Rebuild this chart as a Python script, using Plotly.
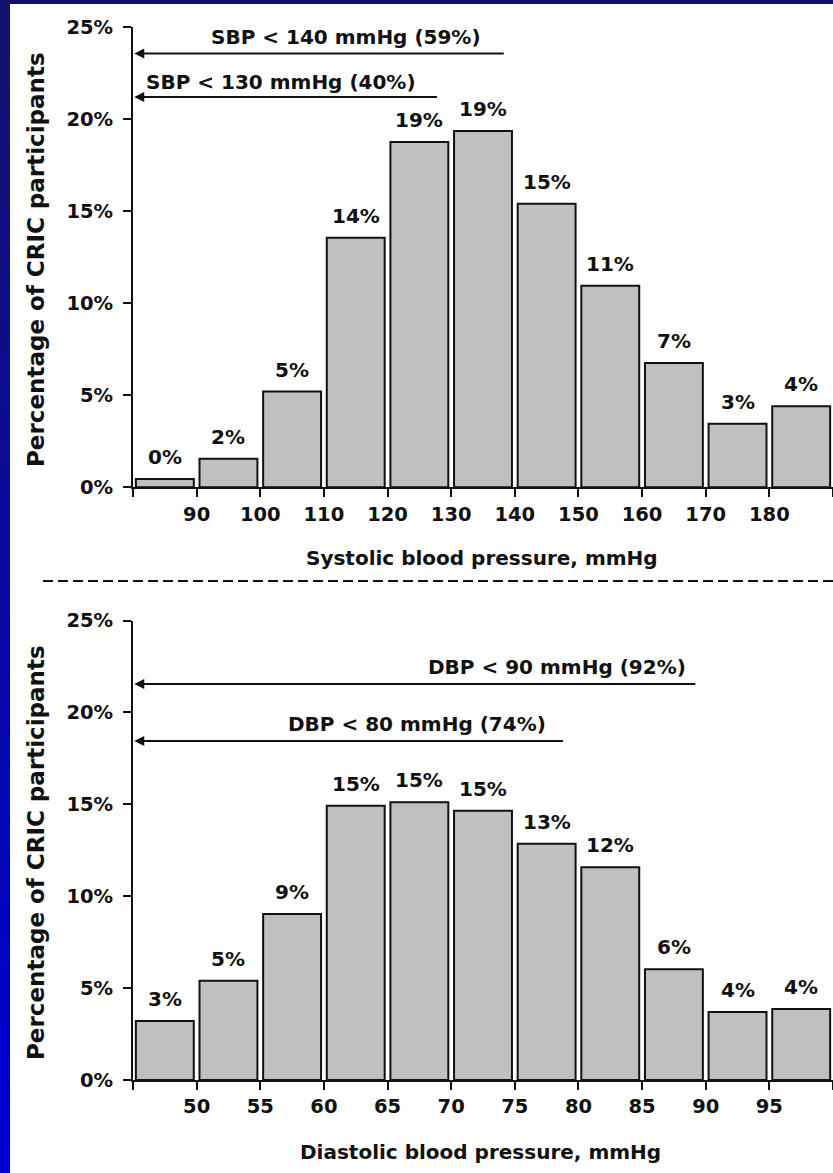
import plotly.graph_objects as go

# ---------------------------------------------------------------- data
# Systolic blood pressure histogram (10 mmHg bins, lower bin edges)
sbp_bin_lo = [80, 90, 100, 110, 120, 130, 140, 150, 160, 170, 180]
sbp_pct = [0.45, 1.55, 5.2, 13.55, 18.75, 19.35, 15.4, 10.95, 6.75, 3.45, 4.4]
sbp_tick_vals = [80, 90, 100, 110, 120, 130, 140, 150, 160, 170, 180, 190]
sbp_tick_text = ["", "90", "100", "110", "120", "130", "140", "150", "160", "170", "180", ""]

# Diastolic blood pressure histogram (5 mmHg bins, lower bin edges)
dbp_bin_lo = [45, 50, 55, 60, 65, 70, 75, 80, 85, 90, 95]
dbp_pct = [3.21, 5.40, 9.03, 14.92, 15.11, 14.65, 12.86, 11.57, 6.02, 3.70, 3.86]
dbp_tick_vals = [45, 50, 55, 60, 65, 70, 75, 80, 85, 90, 95, 100]
dbp_tick_text = ["", "50", "55", "60", "65", "70", "75", "80", "85", "90", "95", ""]

y_tick_vals = [0, 5, 10, 15, 20, 25]
y_tick_text = ["0%", "5%", "10%", "15%", "20%", "25%"]

# Cumulative threshold call-outs: text, text position (x, y), arrow y, arrow tail x
sbp_callouts = [
    ("SBP < 140 mmHg (59%)", 113.4, 24.45, 23.56, 138.5),
    ("SBP < 130 mmHg (40%)", 103.2, 22.02, 21.20, 128.0),
]
dbp_callouts = [
    ("DBP < 90 mmHg (92%)", 78.3, 22.45, 21.55, 89.3),
    ("DBP < 80 mmHg (74%)", 67.3, 19.35, 18.44, 78.9),
]

# ---------------------------------------------------------------- layout helpers
W, H = 833, 1173
ML = 133
PW = W - ML
FONT = "DejaVu Sans"
INK = "#111111"
BAR_FILL = "#c0c0c0"


def paper_x(px):
    return (px - ML) / PW


def paper_y(py):
    return 1 - py / H


def bold(size):
    return dict(family=FONT, size=size, color=INK, weight="bold")


fig = go.Figure()

fig.add_trace(go.Bar(
    x=[lo + 5 for lo in sbp_bin_lo], y=sbp_pct, width=9.1,
    marker=dict(color=BAR_FILL, line=dict(color=INK, width=2)),
    xaxis="x", yaxis="y", hoverinfo="skip",
))
fig.add_trace(go.Bar(
    x=[lo + 2.5 for lo in dbp_bin_lo], y=dbp_pct, width=4.55,
    marker=dict(color=BAR_FILL, line=dict(color=INK, width=2)),
    xaxis="x2", yaxis="y2", hoverinfo="skip",
))

annotations = []

# value labels above bars
for lo, v in zip(sbp_bin_lo, sbp_pct):
    annotations.append(dict(x=lo + 5, y=v, xref="x", yref="y", text=f"{round(v)}%",
                            showarrow=False, yanchor="bottom", yshift=8, font=bold(20)))
for lo, v in zip(dbp_bin_lo, dbp_pct):
    annotations.append(dict(x=lo + 2.5, y=v, xref="x2", yref="y2", text=f"{round(v)}%",
                            showarrow=False, yanchor="bottom", yshift=8, font=bold(20)))

# threshold arrows pointing at the y axis
for (txt, tx, ty, ay, tail), xr, yr, head in (
    [(c, "x", "y", 80.2) for c in sbp_callouts] + [(c, "x2", "y2", 45.1) for c in dbp_callouts]
):
    annotations.append(dict(x=head, y=ay, xref=xr, yref=yr, ax=tail, ay=ay,
                            axref=xr, ayref=yr, text="", showarrow=True,
                            arrowhead=2, arrowsize=1, arrowwidth=2, arrowcolor=INK,
                            standoff=0, startstandoff=0))
    annotations.append(dict(x=tx, y=ty, xref=xr, yref=yr, text=txt, showarrow=False,
                            xanchor="center", yanchor="middle", font=bold(20)))

# axis titles
annotations += [
    dict(x=paper_x(482), y=paper_y(558), xref="paper", yref="paper",
         text="Systolic blood pressure, mmHg", showarrow=False,
         xanchor="center", yanchor="middle", font=bold(20)),
    dict(x=paper_x(480), y=paper_y(1152), xref="paper", yref="paper",
         text="Diastolic blood pressure, mmHg", showarrow=False,
         xanchor="center", yanchor="middle", font=bold(20)),
    dict(x=paper_x(36), y=paper_y(260), xref="paper", yref="paper",
         text="Percentage of CRIC participants", showarrow=False, textangle=-90,
         xanchor="center", yanchor="middle", font=bold(23)),
    dict(x=paper_x(36), y=paper_y(853), xref="paper", yref="paper",
         text="Percentage of CRIC participants", showarrow=False, textangle=-90,
         xanchor="center", yanchor="middle", font=bold(23)),
]

# slide frame: dark band on top, blue gradient strip on the left, dashed divider
shapes = [dict(type="rect", xref="paper", yref="paper",
               x0=paper_x(0), x1=paper_x(W), y0=paper_y(0), y1=paper_y(4),
               fillcolor="#12126c", line=dict(width=0), layer="above")]
n_seg = 40
for i in range(n_seg):
    t = i / (n_seg - 1)
    r = int(18 * (1 - t))
    b = int(108 + (212 - 108) * t)
    y0 = H * i / n_seg
    y1 = H * (i + 1) / n_seg + 1
    shapes.append(dict(type="rect", xref="paper", yref="paper",
                       x0=paper_x(0), x1=paper_x(10), y0=paper_y(y0), y1=paper_y(y1),
                       fillcolor=f"rgb({r},{r},{b})", line=dict(width=0), layer="above"))
shapes.append(dict(type="line", xref="paper", yref="paper",
                   x0=paper_x(43), x1=paper_x(W), y0=paper_y(581), y1=paper_y(581),
                   line=dict(color=INK, width=2, dash="10px,5px")))

common_x = dict(ticks="outside", ticklen=8, tickwidth=2, tickcolor=INK,
                showline=True, linewidth=2, linecolor=INK, showgrid=False,
                zeroline=False, tickfont=bold(19.5), fixedrange=True,
                tickmode="array", automargin=False, domain=[0, 1])
common_y = dict(ticks="outside", ticklen=8, tickwidth=2, tickcolor=INK,
                showline=True, linewidth=2, linecolor=INK, showgrid=False,
                zeroline=False, tickfont=bold(19.5), fixedrange=True,
                tickmode="array", tickvals=y_tick_vals, ticktext=y_tick_text,
                range=[0, 25], automargin=False, ticklabelstandoff=6)

fig.update_layout(
    template="none",
    width=W, height=H, autosize=False,
    margin=dict(l=ML, r=0, t=0, b=0, pad=0),
    paper_bgcolor="white", plot_bgcolor="rgba(0,0,0,0)",
    showlegend=False, barmode="overlay",
    xaxis=dict(common_x, range=[80, 190], tickvals=sbp_tick_vals,
               ticktext=sbp_tick_text, anchor="y"),
    yaxis=dict(common_y, domain=[paper_y(487.3), paper_y(27)], anchor="x"),
    xaxis2=dict(common_x, range=[45, 100], tickvals=dbp_tick_vals,
                ticktext=dbp_tick_text, anchor="y2"),
    yaxis2=dict(common_y, domain=[paper_y(1080), paper_y(620.5)], anchor="x2"),
    annotations=annotations,
    shapes=shapes,
)

fig.write_html("out.html")
